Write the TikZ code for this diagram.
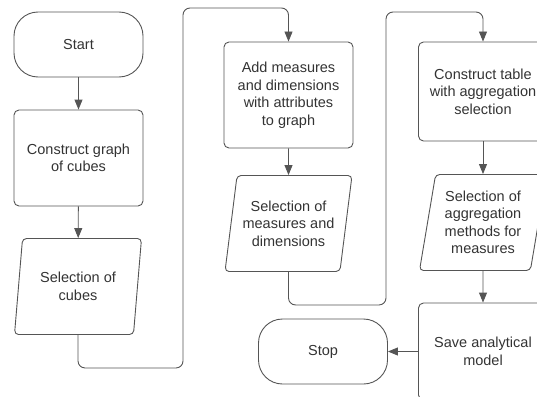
\documentclass[tikz,border=0pt]{standalone}
\usepackage{fontspec}
\setmainfont{Liberation Sans}
\usepackage{xcolor}
\usetikzlibrary{arrows.meta, shapes.geometric}

\definecolor{lineGray}{HTML}{555555}
\definecolor{textGray}{HTML}{333333}

\begin{document}
\begin{tikzpicture}[x = 1pt, y = -1pt,
						every node/.style = {font = \fontsize{14.5}{17.5}\selectfont, text = textGray, align = center},
						terminal/.style = {draw = lineGray, line width = 0.9pt, rectangle, rounded corners = 24pt,
							minimum width = 129pt, minimum height = 65pt},
						process/.style = {draw = lineGray, line width = 0.9pt, rectangle, rounded corners = 5pt,
							minimum width = 129pt},
						dataio/.style = {draw = lineGray, line width = 0.9pt, trapezium, trapezium left angle = 77,
							trapezium right angle = 103, trapezium stretches body, rounded corners = 4pt,
							minimum width = 127pt, minimum height = 96pt, inner xsep = 2pt},
						flow/.style = {draw = lineGray, line width = 0.9pt, rounded corners = 7pt,
							-{Triangle[length = 10pt, width = 8pt]}},
						]
	
		% Frame of the picture
		\useasboundingbox (0, 0) rectangle (537, 396);
		\clip (0, 0) rectangle (537, 396);
		
		% First column
		\node[terminal] (start) at (78.5, 44.5) {Start};
		\node[process, minimum height = 96pt] (graph) at (78.5, 158) {Construct graph\\of cubes};
		\node[dataio] (cubes) at (78, 286.5) {Selection of\\cubes};
		
		% Second column
		\node[process, minimum height = 106pt] (addMeasures) at (288.5, 95) {Add measures\\and dimensions\\with attributes\\to graph};
		\node[dataio] (selMeasures) at (288.5, 223.5) {Selection of\\measures and\\dimensions};
		\node[terminal] (stop) at (323, 351.5) {Stop};
		
		% Third column
		\node[process, minimum height = 99pt] (table) at (483, 91.5) {Construct table\\with aggregation\\selection};
		\node[dataio] (selAggregation) at (483, 222.5) {Selection of\\aggregation\\methods for\\measures};
		\node[process, minimum height = 97pt] (save) at (483, 351.5) {Save analytical\\model};
		
		% Bends of the loops between the columns
		\coordinate (loopA) at (183, 8);
		\coordinate (loopB) at (386, 12);
		
		% Connectors
		\draw[flow] (start) -- (graph);
		\draw[flow] (graph) -- (cubes);
		\draw[flow] (cubes.south) -- ++(0, 33) -| (loopA) -| (addMeasures.north);
		\draw[flow] (addMeasures) -- (selMeasures);
		\draw[flow] (selMeasures.south) -- ++(0, 33) -| (loopB) -| (table.north);
		\draw[flow] (table) -- (selAggregation);
		\draw[flow] (selAggregation) -- (save);
		\draw[flow] (save) -- (stop);
		
	\end{tikzpicture}
\end{document}
